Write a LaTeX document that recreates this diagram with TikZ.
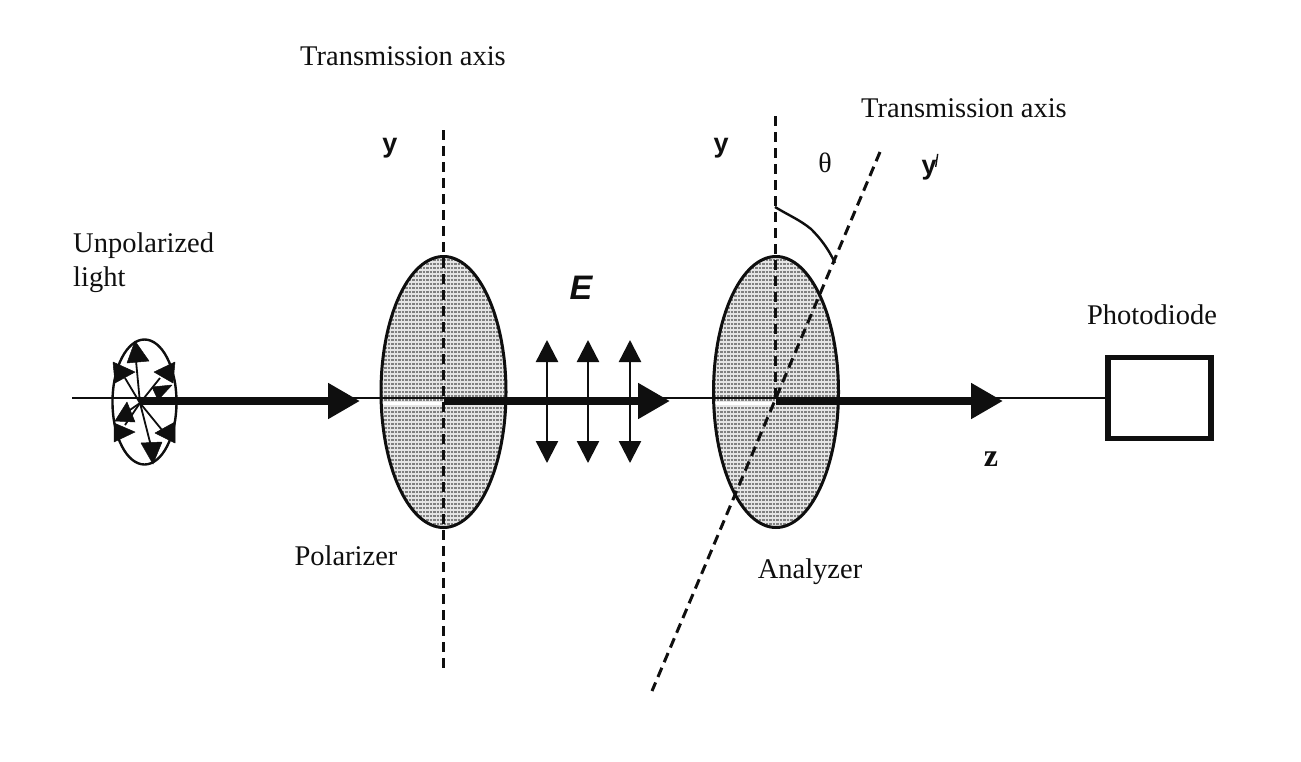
\documentclass[tikz,border=0pt]{standalone}
\usepackage{fontspec}
\setmainfont{Liberation Serif}
\setsansfont{Liberation Sans}
\usetikzlibrary{arrows.meta,shapes.geometric}
\definecolor{ink}{gray}{0.06}
\definecolor{screen}{gray}{0.90}
\definecolor{dots}{gray}{0.50}
\tikzset{
  x=1pt,y=-1pt,
  lbl/.style={inner sep=0pt,text=ink,font=\fontsize{28.5}{34}\selectfont},
  sanslbl/.style={inner sep=0pt,text=ink,font=\fontsize{27}{30}\sffamily\bfseries},
  lens/.style={ellipse,draw=ink,line width=3pt,fill=screen,minimum width=125pt,minimum height=271pt,inner sep=0pt,
    path picture={
      \foreach \k in {-34,...,34}{
        \draw[shift={(path picture bounding box.center)},dots,line width=1.7pt,dash pattern=on 2.5pt off 1pt] (-70,\k*4) -- (70,\k*4);
      }
      \draw[shift={(path picture bounding box.center)},white,line width=3pt] (-70,11) -- (0,11);
    }},
  axisline/.style={draw=ink,line width=2pt},
  beam/.style={draw=ink,line width=8pt,-{Triangle[length=32pt,width=34pt]}},
  vec/.style={draw=ink,line width=2.4pt,{Triangle[length=22pt,width=22pt]}-{Triangle[length=22pt,width=22pt]}},
  ray/.style={draw=ink,line width=1.8pt},
  head/.style={fill=ink,draw=ink,line width=.5pt,line join=round},
  dashline/.style={draw=ink,line width=3pt,dash pattern=on 10pt off 6pt},
}
\begin{document}
\begin{tikzpicture}
\useasboundingbox (0,0) rectangle (1301,761);
\fill[white] (0,0) rectangle (1301,761);
% coordinates
\coordinate (start) at (72,398);
\coordinate (c0) at (140,403);
\coordinate (t1) at (360,401);
\coordinate (t2) at (670,401);
\coordinate (t3) at (1003,401);
\coordinate (p1) at (443,130);
\coordinate (p2) at (443,671);
\coordinate (a1) at (775,116);
\coordinate (a2) at (775,400);
\coordinate (s1) at (880,152);
\coordinate (s2) at (652,691);
% lenses
\node[lens] (pol) at (443.5,392) {};
\node[lens] (ana) at (776,392) {};
% photodiode
\node[draw=ink,line width=5.5pt,fill=white,minimum width=103pt,minimum height=81pt,inner sep=0pt] (pd) at (1159.5,398) {};
% thin axis
\draw[axisline] (start) -- (pd.west);
% dashed axes
\draw[dashline] (p1) -- (p2);
\draw[dashline] (a1) -- (a2);
\draw[dashline] (s1) -- (s2);
% small ellipse
\node[ellipse,draw=ink,line width=2.4pt,minimum width=64pt,minimum height=125pt,inner sep=0pt] (un) at (144.5,402) {};
\coordinate (r1) at (135,350);
\coordinate (r2) at (125,378);
\coordinate (r3) at (160,378);
\coordinate (r5) at (125,425);
\coordinate (r6) at (127,412);
\coordinate (r7) at (152,450);
\coordinate (r8) at (162,430);
\foreach \r in {r1,r2,r3,r5,r6,r7,r8}{ \draw[ray] (c0) -- (\r); }
\fill[head] (135,341) -- (127,363) -- (149,361) -- cycle;
\fill[head] (113,362) -- (135,372) -- (115,383) -- cycle;
\fill[head] (175,362) -- (154,372) -- (173,383) -- cycle;
\fill[head] (152,387) -- (172,385) -- (158,400) -- cycle;
\fill[head] (127,402) -- (115,421) -- (135,422) -- cycle;
\fill[head] (114,423) -- (135,432) -- (114,442) -- cycle;
\fill[head] (175,422) -- (155,433) -- (175,443) -- cycle;
\fill[head] (141,443) -- (162,442) -- (153,464) -- cycle;
% beams
\draw[beam] (c0 |- t1) -- (t1);
\draw[beam] (pol.center |- t2) -- (t2);
\draw[beam] (ana.center |- t3) -- (t3);
% E vectors
\foreach \nm/\xx in {e1/547,e2/588,e3/630}{
  \coordinate (\nm a) at (\xx,340);
  \coordinate (\nm b) at (\xx,463);
  \draw[vec] (\nm a) -- (\nm b);
}
% angle arc
\draw[ink,line width=2.4pt,line join=round] (775,207) .. controls (790,216) and (800,220) .. (811,229) .. controls (820,238) and (828,248) .. (835,263);
% labels
\node[lbl] (tr1) at (403,56) {Transmission axis};
\node[lbl] (tr2) at (964,108) {Transmission axis};
\node[lbl,align=left,anchor=west] (unl) at (73,263) {Unpolarized\\light};
\node[lbl] (poll) at (346,556) {Polarizer};
\node[lbl] (anal) at (810,572) {Analyzer};
\node[lbl] (pdl) at (1152,315) {Photodiode};
\node[sanslbl] (y1) at (390,148) {y};
\node[sanslbl] (y2) at (721,148) {y};
\node[sanslbl] (y3) at (929,170) {y};
\draw[ink,line width=1.4pt] (y3.north east)++(1,-6) -- ++(-2,13);
\node[inner sep=0pt,text=ink,font=\fontsize{28}{30}\selectfont] (th) at (825,163) {θ};
\node[inner sep=0pt,text=ink,font=\fontsize{32}{34}\bfseries] (z) at (991,459) {z};
\node[inner sep=0pt,text=ink,font=\fontsize{34}{36}\sffamily\bfseries\itshape] (E) at (581,288) {E};
\end{tikzpicture}
\end{document}
